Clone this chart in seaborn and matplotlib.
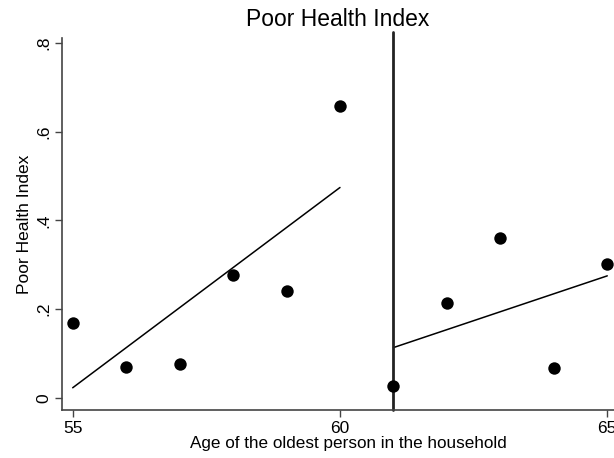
import pandas as pd
import matplotlib.pyplot as plt
import seaborn as sns

sns.set_style("ticks")
plt.rcParams["font.family"] = ["Liberation Sans", "DejaVu Sans"]
plt.rcParams["text.color"] = "black"
plt.rcParams["axes.labelcolor"] = "black"
plt.rcParams["xtick.labelcolor"] = "black"
plt.rcParams["ytick.labelcolor"] = "black"

# Data
ages = [55, 56, 57, 58, 59, 60, 61, 62, 63, 64, 65]
health = [0.169, 0.070, 0.077, 0.277, 0.241, 0.658, 0.027, 0.214, 0.361, 0.068, 0.302]
cutoff = 61
yticks = [0, 0.2, 0.4, 0.6, 0.8]
ytick_labels = ["0", ".2", ".4", ".6", ".8"]
xticks = [55, 60, 65]

df = pd.DataFrame({"age": ages, "phi": health})
left = df[df["age"] < cutoff]
right = df[df["age"] >= cutoff]

fig = plt.figure(figsize=(6.14, 4.58), dpi=100)
# axes run past the right edge, as in the original export
ax = fig.add_axes([62 / 614, 1 - 410 / 458, 572 / 614, 372 / 458])

line_kw = {"color": "black", "linewidth": 1.1}
sns.regplot(data=left, x="age", y="phi", ci=None, scatter=False, truncate=True,
            line_kws=line_kw, ax=ax)
sns.regplot(data=right, x="age", y="phi", ci=None, scatter=False, truncate=True,
            line_kws=line_kw, ax=ax)
sns.scatterplot(data=df, x="age", y="phi", color="black", s=80, edgecolor="black",
                linewidth=0, ax=ax, zorder=3)
ax.axvline(cutoff, ymax=1.015, color="#222222", linewidth=2, clip_on=False)

ax.set_xlim(54.8, 65.5)
ax.set_ylim(-0.027, 0.811)
ax.set_xticks(xticks)
ax.set_yticks(yticks)
ax.set_yticklabels(ytick_labels, rotation=90, va="center")
ax.tick_params(axis="both", labelsize=12.5, length=5, width=1, color="#444444", pad=3)
ax.set_xlabel("Age of the oldest person in the household", fontsize=12.3, labelpad=0)
ax.set_ylabel("Poor Health Index", fontsize=12.5, labelpad=3)
for s in ["top", "right"]:
    ax.spines[s].set_visible(False)
for s in ["left", "bottom"]:
    ax.spines[s].set_color("#444444")
    ax.spines[s].set_linewidth(1.2)

fig.text(338 / 614, 1 - 20 / 458, "Poor Health Index", ha="center", va="center", fontsize=16.5)

fig.savefig("out.png", dpi=100)
